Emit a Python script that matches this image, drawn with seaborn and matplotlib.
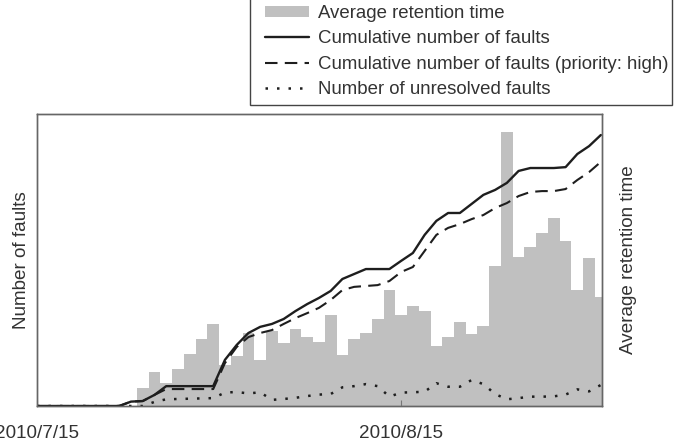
import numpy as np
import pandas as pd
import matplotlib
matplotlib.use("Agg")
import matplotlib.pyplot as plt
from matplotlib.patches import Patch, Rectangle
from matplotlib.lines import Line2D
import seaborn as sns

# ---- data ----
dates = pd.date_range("2010-07-15", "2010-09-01", freq="D")
tick_dates = ["2010-07-15", "2010-08-15"]
tick_labels = ["2010/7/15", "2010/8/15"]

cumulative_faults = [0, 0, 0, 0, 0, 0, 0, 0, 1.5, 1.7, 3.8, 6.8, 6.8, 6.8, 6.8, 6.8,
                     15.8, 20.9, 25.0, 27.1, 28.1, 29.8, 32.5, 34.9, 37.0, 39.4, 43.5,
                     45.2, 46.9, 46.9, 46.9, 49.7, 52.4, 58.6, 63.4, 66.1, 66.1, 69.2,
                     72.3, 74.0, 76.4, 80.5, 81.5, 81.5, 81.5, 81.8, 86.3, 89.0, 92.8]
cumulative_high = [0, 0, 0, 0, 0, 0, 0, 0, 1.5, 1.7, 3.8, 5.8, 5.8, 5.8, 5.8, 5.8,
                   14.7, 20.2, 23.6, 25.0, 26.0, 28.1, 30.1, 31.8, 33.6, 36.3, 39.7,
                   40.8, 41.1, 41.4, 42.8, 45.9, 47.6, 53.1, 58.6, 61.0, 62.3, 64.0,
                   65.4, 67.8, 69.5, 71.9, 73.3, 73.6, 73.6, 74.3, 77.4, 80.1, 83.6]
unresolved = [0, 0, 0, 0, 0, 0, 0, 0, 0, 0, 1.4, 2.3, 2.4, 2.5, 2.6, 2.7,
              4.6, 4.8, 4.3, 4.7, 2.1, 2.4, 2.8, 3.4, 3.9, 4.1, 6.4, 6.8, 7.5,
              6.8, 3.2, 4.6, 4.7, 4.9, 7.8, 6.6, 6.6, 8.9, 7.5, 4.1, 2.3, 2.7,
              3.2, 3.2, 3.3, 3.9, 5.7, 5.0, 7.2]
retention_start = "2010-07-24"
retention_time = [1.8, 3.4, 2.3, 3.7, 5.2, 6.7, 8.2, 4.1, 5.0, 7.3, 4.6, 7.5, 6.3,
                  7.7, 6.9, 6.4, 9.1, 5.1, 6.7, 7.3, 8.7, 11.6, 9.1, 10.0, 9.5, 6.0,
                  6.9, 8.4, 7.2, 8.0, 14.0, 27.4, 14.9, 15.9, 17.3, 18.8, 16.5, 11.6,
                  14.8, 10.9]

legend_labels = ["Average retention time", "Cumulative number of faults",
                 "Cumulative number of faults (priority: high)",
                 "Number of unresolved faults"]

# ---- build tables ----
start = dates[0]
lines_df = pd.DataFrame({
    "day": (dates - start).days,
    "cum": cumulative_faults,
    "high": cumulative_high,
    "open": unresolved,
})
bar_dates = pd.date_range(retention_start, periods=len(retention_time), freq="D")
bars_df = pd.DataFrame({"day": (bar_dates - start).days, "ret": retention_time})

# ---- style ----
sns.set_theme(style="white")
plt.rcParams["font.family"] = ["Liberation Sans", "DejaVu Sans"]
TXT = "#333333"
LINE = "#1e1e1e"
BAR = "#c0c0c0"
FS = 13.6
W, H = 678, 445

fig = plt.figure(figsize=(6.78, 4.45), dpi=100)
ax = fig.add_axes([37 / W, 1 - 406 / H, (602 - 37) / W, (406 - 114) / H])
ax2 = ax.twinx()

sns.barplot(data=bars_df, x="day", y="ret", native_scale=True, width=1.0,
            color=BAR, saturation=1, linewidth=0, errorbar=None, ax=ax2)

sns.lineplot(data=lines_df, x="day", y="cum", ax=ax, color=LINE, lw=1.7)
sns.lineplot(data=lines_df, x="day", y="high", ax=ax, color=LINE, lw=1.5,
             linestyle=(0, (6, 3.5)))
sns.lineplot(data=lines_df, x="day", y="open", ax=ax, color=LINE, lw=1.8,
             linestyle=(0, (1, 3.6)))

ax.set_zorder(ax2.get_zorder() + 1)
ax.patch.set_visible(False)

ax.set_xlim(0, 48.1)
ax.set_ylim(0, 100)
ax2.set_ylim(0, 29.2)

tick_pos = [(pd.Timestamp(t) - start).days for t in tick_dates]
ax.set_xticks(tick_pos)
ax.set_xticklabels(tick_labels)
ax.tick_params(axis="x", direction="in", length=4, width=0.8, colors="#777777",
               labelcolor=TXT, labelsize=FS, pad=14, bottom=True)
ax.set_yticks([])
ax2.set_yticks([])
ax.set_xlabel("")
ax.set_ylabel("Number of faults", fontsize=FS, color=TXT, labelpad=5)
ax2.set_ylabel("Average retention time", fontsize=FS, color=TXT, rotation=90,
               labelpad=13)

for a in (ax, ax2):
    for s in a.spines.values():
        s.set_color("#666666")
        s.set_linewidth(1.0)

# legend box
box = Rectangle((250 / W, 1 - 105 / H), (672 - 250) / W, 105 / H + 0.02,
                transform=fig.transFigure, facecolor="white", edgecolor="#444444",
                linewidth=1.0, zorder=5)
fig.patches.append(box)

handles = [
    Patch(facecolor=BAR, edgecolor="none"),
    Line2D([], [], color=LINE, lw=1.7),
    Line2D([], [], color=LINE, lw=1.5, linestyle=(0, (6, 3.5))),
    Line2D([], [], color=LINE, lw=1.8, linestyle=(0, (1, 3.6))),
]
leg = fig.legend(handles, legend_labels, loc="upper left",
                 bbox_to_anchor=(265 / W, 1 - 5 / H), frameon=False,
                 fontsize=13.4, handlelength=2.35, handleheight=0.55,
                 labelspacing=0.45, borderpad=0, handletextpad=0.5,
                 borderaxespad=0)
leg.set_zorder(6)
for t in leg.get_texts():
    t.set_color(TXT)

fig.savefig("out.png", dpi=100)
